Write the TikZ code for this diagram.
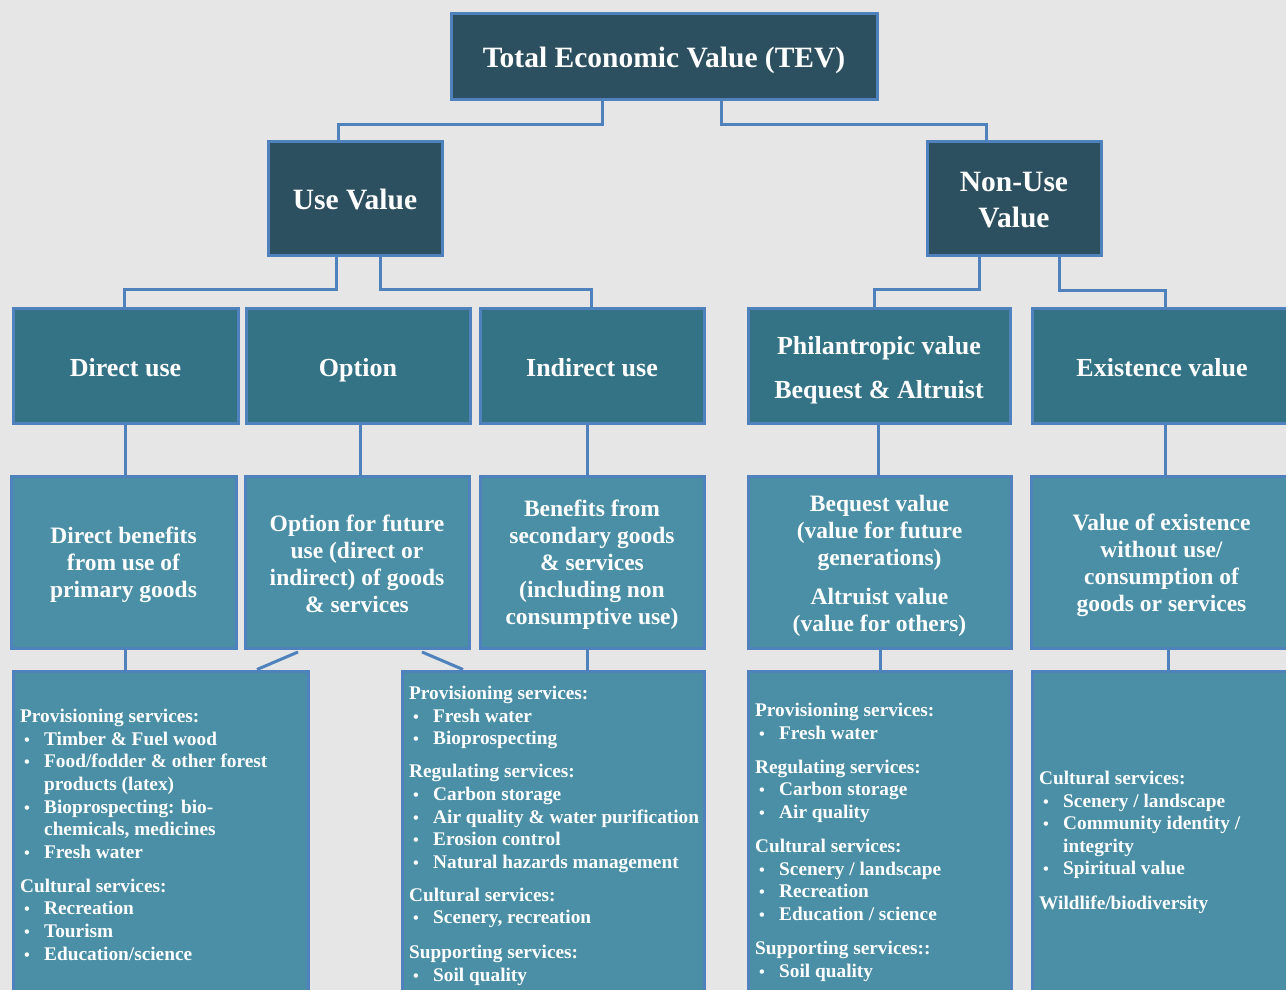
\documentclass[tikz,border=0pt]{standalone}
\usepackage{fontspec}
\setmainfont{Liberation Serif}
\usetikzlibrary{calc}
\definecolor{bg}{HTML}{E6E6E6}
\definecolor{bord}{HTML}{4F81BD}
\definecolor{dark}{HTML}{2D5060}
\definecolor{mid}{HTML}{347385}
\definecolor{light}{HTML}{4A8FA5}
\newcommand{\bitem}[1]{\hspace*{4pt}\makebox[20pt][l]{\scalebox{0.85}{\textbullet}}#1}
\newcommand{\citem}[1]{\hspace*{24pt}#1}
\begin{document}
\begin{tikzpicture}[x=1pt,y=-1pt,
 box/.style={draw=bord, line width=3pt, inner sep=0pt, outer sep=0pt},
 topbox/.style={box, fill=dark},
 lvtwo/.style={box, fill=mid},
 lvthree/.style={box, fill=light},
 lvfour/.style={box, fill=light},
 lbl/.style={text=white, align=center, inner sep=0pt},
 toplbl/.style={lbl, font=\bfseries\fontsize{29.5}{36}\selectfont},
 twolbl/.style={lbl, font=\bfseries\fontsize{26}{44}\selectfont},
 threelbl/.style={lbl, font=\bfseries\fontsize{23.5}{27}\selectfont},
 list/.style={text=white, font=\bfseries\fontsize{19.3}{22.6}\selectfont, align=left, anchor=north west, inner sep=0pt},
 conn/.style={draw=bord, line width=3pt},
]
\fill[bg] (0,0) rectangle (1286,990);
\useasboundingbox (0,0) rectangle (1286,990);
\clip (0,0) rectangle (1286,990);

% level 0 and 1
\node[topbox, minimum width=426, minimum height=86] (tev) at (664,57) {};
\node[topbox, minimum width=174, minimum height=114] (uv) at (355,198) {};
\node[topbox, minimum width=174, minimum height=114] (nuv) at (1014,198) {};
\node[toplbl] (tevt) at ([yshift=-3.5pt]tev.center) {Total Economic Value (TEV)};
\node[toplbl] (uvt) at ([yshift=-1pt]uv.center) {Use Value};
\node[toplbl] (nuvt) at ([yshift=-2pt]nuv.center) {Non-Use\\Value};

% level 2
\node[lvtwo, minimum width=225, minimum height=115] (du) at (125.5,365.5) {};
\node[lvtwo, minimum width=224, minimum height=115] (op) at (358,365.5) {};
\node[lvtwo, minimum width=224, minimum height=115] (iu) at (592,365.5) {};
\node[lvtwo, minimum width=262, minimum height=115] (ph) at (879,365.5) {};
\node[lvtwo, minimum width=260, minimum height=115] (ex) at (1162,365.5) {};
\node[twolbl] (dut) at ([yshift=-2pt]du.center) {Direct use};
\node[twolbl] (opt) at ([yshift=-5pt]op.center) {Option};
\node[twolbl] (iut) at ([yshift=-2pt]iu.center) {Indirect use};
\node[twolbl] (pht) at ([yshift=-4.5pt]ph.center) {Philantropic value\\Bequest \& Altruist};
\node[twolbl] (ext) at ([yshift=-2pt]ex.center) {Existence value};

% level 3
\node[lvthree, minimum width=225, minimum height=172] (db) at (123.5,562) {};
\node[lvthree, minimum width=224, minimum height=172] (of) at (357,562) {};
\node[lvthree, minimum width=224, minimum height=172] (bs) at (592,562) {};
\node[lvthree, minimum width=263, minimum height=172] (bq) at (879.5,562) {};
\node[lvthree, minimum width=261, minimum height=172] (ve) at (1161.5,562) {};
\node[threelbl] (dbt) at ([yshift=-3pt]db.center) {Direct benefits\\from use of\\primary goods};
\node[threelbl] (oft) at ([yshift=-1.5pt]of.center) {Option for future\\use (direct or\\indirect) of goods\\\& services};
\node[threelbl] (bst) at ([yshift=-3pt]bs.center) {Benefits from\\secondary goods\\\& services\\(including non\\consumptive use)};
\node[threelbl] (bqt) at ([yshift=-4pt]bq.center) {Bequest value\\(value for future\\generations)\\[12pt]Altruist value\\(value for others)};
\node[threelbl] (vet) at ([yshift=-3pt]ve.center) {Value of existence\\without use/\\consumption of\\goods or services};

% level 4
\node[lvfour, minimum width=295, minimum height=329] (la) at (160.5,835.5) {};
\node[lvfour, minimum width=302, minimum height=329] (lb) at (553,835.5) {};
\node[lvfour, minimum width=263, minimum height=329] (lc) at (879.5,835.5) {};
\node[lvfour, minimum width=260, minimum height=329] (ld) at (1162,835.5) {};

\node[list] (ta) at ([xshift=7pt,yshift=-38pt]la.north west) {Provisioning services:\\
\bitem{Timber \& Fuel wood}\\
\bitem{Food/fodder \& other forest}\\
\citem{products (latex)}\\
\bitem{Bioprospecting: bio-}\\
\citem{chemicals, medicines}\\
\bitem{Fresh water}\\[11.5pt]
Cultural services:\\
\bitem{Recreation}\\
\bitem{Tourism}\\
\bitem{Education/science}};

\node[list] (tb) at ([xshift=7pt,yshift=-15pt]lb.north west) {Provisioning services:\\
\bitem{Fresh water}\\
\bitem{Bioprospecting}\\[10.5pt]
Regulating services:\\
\bitem{Carbon storage}\\
\bitem{Air quality \& water purification}\\
\bitem{Erosion control}\\
\bitem{Natural hazards management}\\[10.5pt]
Cultural services:\\
\bitem{Scenery, recreation}\\[12pt]
Supporting services:\\
\bitem{Soil quality}};

\node[list] (tc) at ([xshift=7pt,yshift=-32pt]lc.north west) {Provisioning services:\\
\bitem{Fresh water}\\[11.5pt]
Regulating services:\\
\bitem{Carbon storage}\\
\bitem{Air quality}\\[11.5pt]
Cultural services:\\
\bitem{Scenery / landscape}\\
\bitem{Recreation}\\
\bitem{Education / science}\\[12pt]
Supporting services::\\
\bitem{Soil quality}};

\node[list] (td) at ([xshift=7pt,yshift=-100pt]ld.north west) {Cultural services:\\
\bitem{Scenery / landscape}\\
\bitem{Community identity /}\\
\citem{integrity}\\
\bitem{Spiritual value}\\[12pt]
Wildlife/biodiversity};

% connectors
\draw[conn] ([xshift=-62pt]tev.south) -- ++(0,24) -| ([xshift=-17pt]uv.north);
\draw[conn] ([xshift=57pt]tev.south) -- ++(0,24) -| ([xshift=-28pt]nuv.north);
\draw[conn] ([xshift=-19pt]uv.south) -- ++(0,34) -| ([xshift=-1.5pt]du.north);
\draw[conn] ([xshift=25pt]uv.south) -- ++(0,34) -| ([xshift=-1pt]iu.north);
\draw[conn] ([xshift=-35pt]nuv.south) -- ++(0,34) -| ([xshift=-5pt]ph.north);
\draw[conn] ([xshift=45pt]nuv.south) -- ++(0,35) -| ([xshift=3pt]ex.north);

\draw[conn] ([xshift=-0.5pt]du.south) -- ([xshift=-0.5pt]du.south |- db.north);
\draw[conn] ([xshift=2pt]op.south) -- ([xshift=2pt]op.south |- of.north);
\draw[conn] ([xshift=-5pt]iu.south) -- ([xshift=-5pt]iu.south |- bs.north);
\draw[conn] ([xshift=-1pt]ph.south) -- ([xshift=-1pt]ph.south |- bq.north);
\draw[conn] ([xshift=3pt]ex.south) -- ([xshift=3pt]ex.south |- ve.north);

\draw[conn] ([xshift=1.5pt]db.south) -- ([xshift=1.5pt]db.south |- la.north);
\draw[conn] ([xshift=-5pt]bs.south) -- ([xshift=-5pt]bs.south |- lb.north);
\draw[conn] ([xshift=0.5pt]bq.south) -- ([xshift=0.5pt]bq.south |- lc.north);
\draw[conn] ([xshift=6.5pt]ve.south) -- ([xshift=6.5pt]ve.south |- ld.north);

\draw[conn] ([xshift=-59pt,yshift=-4pt]of.south) -- ([xshift=96.5pt,yshift=1.5pt]la.north);
\draw[conn] ([xshift=65pt,yshift=-4pt]of.south) -- ([xshift=-90pt,yshift=1.5pt]lb.north);
\end{tikzpicture}
\end{document}
